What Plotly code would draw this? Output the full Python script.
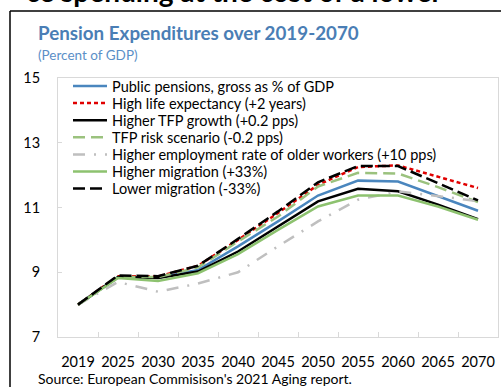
import plotly.graph_objects as go

years = ["2019", "2025", "2030", "2035", "2040", "2045", "2050", "2055", "2060", "2065", "2070"]

public_pensions = [8.0, 8.85, 8.83, 9.07, 9.80, 10.57, 11.37, 11.83, 11.80, 11.35, 10.90]
high_life_exp = [8.0, 8.88, 8.87, 9.20, 10.00, 10.83, 11.70, 12.25, 12.30, 11.96, 11.60]
higher_tfp = [8.0, 8.85, 8.82, 9.02, 9.64, 10.41, 11.19, 11.58, 11.50, 11.09, 10.64]
tfp_risk = [8.0, 8.85, 8.85, 9.15, 9.95, 10.72, 11.65, 12.07, 12.05, 11.63, 11.17]
higher_employment = [8.0, 8.70, 8.40, 8.65, 9.00, 9.80, 10.57, 11.24, 11.50, 11.35, 11.20]
higher_migration = [8.0, 8.82, 8.73, 8.97, 9.56, 10.31, 11.03, 11.37, 11.37, 11.03, 10.62]
lower_migration = [8.0, 8.90, 8.88, 9.20, 10.03, 10.88, 11.78, 12.28, 12.28, 11.76, 11.22]

series = [
    ("Public pensions, gross as % of GDP", public_pensions, "#4A86BE", "solid"),
    ("High life expectancy (+2 years)", high_life_exp, "#E00000", "4px,3px"),
    ("Higher TFP growth (+0.2 pps)", higher_tfp, "#000000", "solid"),
    ("TFP risk scenario (-0.2 pps)", tfp_risk, "#9BC27E", "12px,6px"),
    ("Higher employment rate of older workers (+10 pps)", higher_employment, "#BFBFBF", "12px,9px,2px,9px"),
    ("Higher migration (+33%)", higher_migration, "#8DC26F", "solid"),
    ("Lower migration (-33%)", lower_migration, "#000000", "12px,5px"),
]

FONT = "Lato"

fig = go.Figure()
for name, vals, color, dash in series:
    fig.add_trace(go.Scatter(
        x=years, y=vals, name=name, mode="lines",
        line=dict(color=color, width=2.5, dash=dash),
        showlegend=False,
    ))

# plot area in page pixels: x 58..498, y 78..337
L, R, T, B = 58, 498, 78, 337
W, H = R - L, B - T


def px(x):
    return (x - L) / W


def py(y):
    return (B - y) / H


annotations = [
    dict(text="<b>Pension Expenditures over 2019-2070</b>", x=px(36), y=py(33),
         xref="paper", yref="paper", xanchor="left", yanchor="middle",
         showarrow=False, font=dict(family=FONT, size=18.8, color="#4A7EB5")),
    dict(text="(Percent of GDP)", x=px(36), y=py(55),
         xref="paper", yref="paper", xanchor="left", yanchor="middle",
         showarrow=False, font=dict(family=FONT, size=13.5, color="#5B8FC7")),
    dict(text="Source: European Commisison's 2021 Aging report.", x=px(36), y=py(378),
         xref="paper", yref="paper", xanchor="left", yanchor="middle",
         showarrow=False, font=dict(family=FONT, size=14, color="#000000")),
    dict(text="<b>ce spending at the cost of a lower</b>", x=px(444), y=py(10),
         xref="paper", yref="paper", xanchor="right", yanchor="bottom",
         showarrow=False, font=dict(family=FONT, size=28, color="#000000")),
]

shapes = [
    dict(type="line", xref="paper", yref="paper", x0=px(10), x1=px(520), y0=py(11), y1=py(11),
         line=dict(color="#000000", width=1.5)),
    dict(type="line", xref="paper", yref="paper", x0=px(10), x1=px(10), y0=py(11), y1=py(400),
         line=dict(color="#000000", width=1.5)),
]

# legend (drawn manually to match the tight row spacing of the original)
LEG_X0, LEG_X1, LEG_TEXT, LEG_Y0, LEG_STEP = 73, 107, 110, 86, 17.1
for i, (name, vals, color, dash) in enumerate(series):
    yy = LEG_Y0 + i * LEG_STEP
    shapes.append(dict(type="line", xref="paper", yref="paper",
                       x0=px(LEG_X0), x1=px(LEG_X1), y0=py(yy), y1=py(yy),
                       line=dict(color=color, width=2.5, dash=dash)))
    annotations.append(dict(text=name, x=px(LEG_TEXT), y=py(yy),
                            xref="paper", yref="paper", xanchor="left", yanchor="middle",
                            showarrow=False,
                            font=dict(family=FONT, size=14.5, color="#000000")))

fig.update_layout(
    width=501, height=387,
    margin=dict(l=L, r=501 - R, t=T, b=387 - B, pad=0),
    paper_bgcolor="white", plot_bgcolor="white",
    font=dict(family=FONT, size=14, color="#000000"),
    showlegend=False,
    xaxis=dict(
        type="category", range=[-0.5, 10.5],
        showgrid=False, zeroline=False,
        showline=True, linecolor="#D9D9D9", linewidth=1, mirror=True,
        ticks="inside", tickson="boundaries", ticklen=5, tickcolor="#D9D9D9",
        tickangle=0,
        tickfont=dict(family=FONT, size=14.5, color="#000000"),
        ticklabelstandoff=12,
    ),
    yaxis=dict(
        range=[7, 15], tickvals=[7, 9, 11, 13, 15],
        showgrid=False, zeroline=False,
        showline=True, linecolor="#D9D9D9", linewidth=1, mirror=True,
        ticks="inside", ticklen=4, tickcolor="#D9D9D9",
        tickfont=dict(family=FONT, size=14.5, color="#000000"),
        ticklabelstandoff=14,
    ),
    annotations=annotations,
    shapes=shapes,
)

fig.write_html("out.html", config={"displayModeBar": False},
               post_script="document.body.style.margin='0';")
